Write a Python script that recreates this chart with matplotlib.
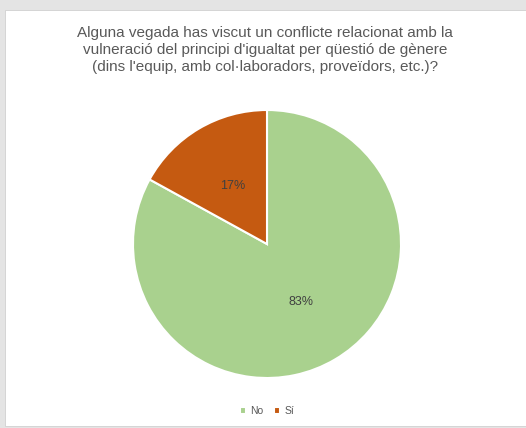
import matplotlib
matplotlib.use('Agg')
import matplotlib.pyplot as plt
from matplotlib.patches import Rectangle

# chart data
title = ("Alguna vegada has viscut un conflicte relacionat amb la\n"
         "vulneració del principi d'igualtat per qüestió de gènere\n"
         "(dins l'equip, amb col·laboradors, proveïdors, etc.)?")
labels = ['No', 'Sí']
values = [83, 17]
colors = ['#A9D18E', '#C55A11']

W, H = 526, 428
fig = plt.figure(figsize=(W / 100, H / 100), dpi=100, facecolor='#E4E4E4')

# white chart panel inside the grey frame
fig.patches.append(Rectangle((5 / W, 2 / H), 1 - 5 / W, (H - 12) / H,
                             transform=fig.transFigure, facecolor='white',
                             edgecolor='#D0D0D0', linewidth=0.6, zorder=-5))

# pie axes: centre (267, 244) px, radius 134 px
cx, cy, r = 267, 244, 134
ax = fig.add_axes([(cx - r) / W, (H - cy - r) / H, 2 * r / W, 2 * r / H])
ax.set_zorder(2)
wedges, texts, autotexts = ax.pie(
    values, colors=colors, startangle=90, counterclock=False,
    autopct='%1.0f%%', pctdistance=0.5,
    wedgeprops=dict(edgecolor='white', linewidth=1.5),
    textprops=dict(color='#404040', fontsize=9, family='Liberation Sans'))
ax.set_xlim(-1.0, 1.0)
ax.set_ylim(-1.0, 1.0)
ax.set_aspect('equal')
ax.axis('off')

fig.text(265 / W, 1 - 26 / H, title, ha='center', va='top', fontsize=11,
         color='#595959', family='Liberation Sans', linespacing=1.28)

fig.legend(wedges, labels, loc='center', bbox_to_anchor=(267 / W, 1 - 411 / H),
           ncol=2, frameon=False, handlelength=0.6, handleheight=0.6,
           handletextpad=0.4, columnspacing=1.0, labelcolor='#595959',
           prop=dict(family='Liberation Sans', size=7.5))

fig.savefig('out.png', dpi=100, facecolor=fig.get_facecolor())
